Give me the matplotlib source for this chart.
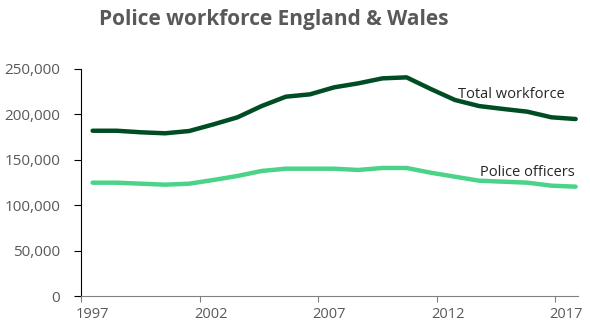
import numpy as np
import matplotlib
matplotlib.use('Agg')
import matplotlib.pyplot as plt
import matplotlib.transforms as mtransforms

# Du lieu doc tu bieu do goc (moi nam mot diem, 1997-2017)
years = list(range(1997, 2018))
total_workforce = [182000, 182000, 180300, 179200, 181700, 189000, 196800, 209200,
                   219500, 222100, 229800, 234200, 239700, 240800, 228000, 215900,
                   209200, 206000, 203000, 196800, 194900]
police_officers = [124800, 124800, 123700, 122600, 123700, 127750, 132200, 137700,
                   140200, 140200, 140200, 138800, 141000, 141000, 135800, 131400,
                   127000, 125900, 124800, 121500, 120400]
tick_years = [1997, 2002, 2007, 2012, 2017]
y_ticks = [0, 50000, 100000, 150000, 200000, 250000]

plt.rcParams['font.family'] = ['Open Sans', 'DejaVu Sans']

fig = plt.figure(figsize=(5.9, 3.27), dpi=100)
ax = fig.add_axes([81 / 590, 31 / 327, 497 / 590, 227 / 327])

# diem du lieu nam giua cac vach nam (so lieu theo nam tai chinh)
x = 1997.49 + (np.array(years) - 1997) * 1.019
ax.plot(x, total_workforce, color='#004c24', lw=3.2, solid_capstyle='round')
ax.plot(x, police_officers, color='#4cd38a', lw=3.2, solid_capstyle='round')

ax.text(2012.9, total_workforce[15] + 6500, 'Total workforce', fontsize=10.5,
        color='#262626', ha='left', va='center')
ax.text(2013.85, police_officers[16] + 8500, 'Police officers', fontsize=10.5,
        color='#262626', ha='left', va='center')

ax.set_xlim(1997, 2017.97)
ax.set_ylim(0, 250000)
ax.set_xticks(tick_years)
ax.set_xticklabels([str(t) for t in tick_years])
ax.set_yticks(y_ticks)
ax.set_yticklabels(['{:,}'.format(v) for v in y_ticks])

for s in ['top', 'right']:
    ax.spines[s].set_visible(False)
ax.spines['left'].set_color('black')
ax.spines['bottom'].set_color('#808080')
ax.tick_params(axis='y', length=5, color='black', labelcolor='#595959', labelsize=11, pad=10)
ax.tick_params(axis='x', length=4, color='#808080', labelcolor='#595959', labelsize=10.5, pad=4)

# nhan truc x lech sang phai so voi vach
offset = mtransforms.ScaledTranslation(11 / 100, 0, fig.dpi_scale_trans)
for lbl in ax.get_xticklabels():
    lbl.set_transform(lbl.get_transform() + offset)

fig.text(274 / 590, 0.94, 'Police workforce England & Wales', ha='center', va='center',
         fontsize=15, fontweight='bold', color='#595959')

fig.savefig('out.png', dpi=100)
